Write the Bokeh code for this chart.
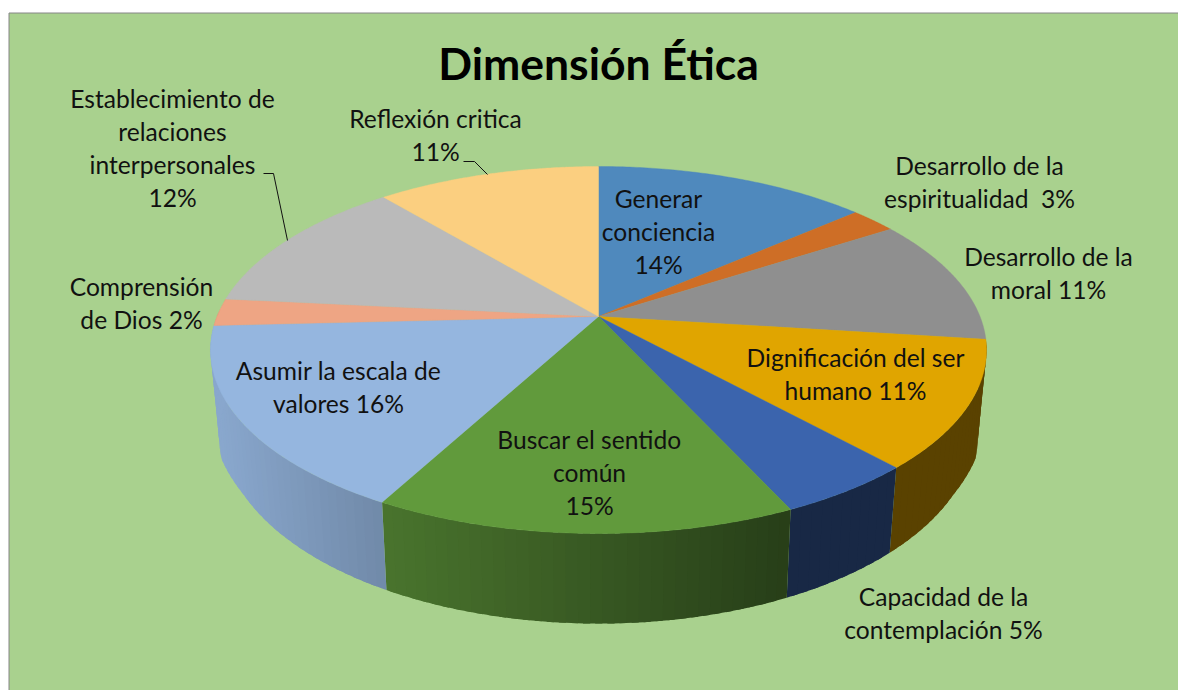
import numpy as np
from bokeh.plotting import figure
from bokeh.models import Range1d
from bokeh.core.properties import value
from bokeh.embed import file_html
from bokeh.resources import INLINE

# ---- data (shares; labels carry the printed rounding)
categories = ["Generar conciencia", "Desarrollo de la espiritualidad", "Desarrollo de la moral",
              "Dignificación del ser humano", "Capacidad de la contemplación", "Buscar el sentido común",
              "Asumir la escala de valores", "Comprensión de Dios",
              "Establecimiento de relaciones interpersonales", "Reflexión critica"]
shares = [13.6, 2.3, 11.1, 11.2, 4.9, 14.8, 16.3, 2.4, 12.3, 11.1]
colors = ["#4F89BD", "#CE6E26", "#8F8F8F", "#E0A500", "#3B64AD",
          "#619A3C", "#95B6DF", "#EEA584", "#BABABA", "#FBCF80"]
title = "Dimensión Ética"
label_lines = [
    ["Generar", "conciencia", "14%"],
    ["Desarrollo de la", "espiritualidad\u00a0 3%"],
    ["Desarrollo de la", "moral 11%"],
    ["Dignificación del ser", "humano 11%"],
    ["Capacidad de la", "contemplación 5%"],
    ["Buscar el sentido", "común", "15%"],
    ["Asumir la escala de", "valores 16%"],
    ["Comprensión", "de Dios 2%"],
    ["Establecimiento de", "relaciones", "interpersonales", "12%"],
    ["Reflexión critica", "11%"],
]
# first-line centre of each label, in page pixels
label_pos = [(658, 198), (979, 165), (1048, 256), (855, 357), (943, 596),
             (589, 439), (338, 370), (141, 286), (172, 98), (435, 118)]
line_gap = 33

# ---- projection of the tilted disc
CX, CY, RX, RY, K, DEPTH = 598.0, 316.0, 381.5, 177.4, 0.1826, 73.6
LOW_V = [0.0, 0.34, 0.5, 0.9, 1.0]
LOW_S = [0.965, 0.985, 0.975, 0.98, 0.98]


def top_ring(a):
    u, v = np.sin(a), -np.cos(a)
    w = 1 - K * v
    return CX + RX * u / w, CY + RY * v / w


def low_ring(a):
    x, y = top_ring(a)
    v = -np.cos(a)
    s = np.interp(v, LOW_V, LOW_S)
    w = 1 - K * v
    return CX + (x - CX) * s, y + DEPTH / w


def shade(hex_color, f):
    rgb = [int(hex_color[i:i + 2], 16) for i in (1, 3, 5)]
    return "#%02x%02x%02x" % tuple(int(round(c * f)) for c in rgb)


edges = np.radians(np.concatenate([[0], np.cumsum(shares)]) * 3.6)
WIDTH, HEIGHT = 1178, 690

p = figure(width=WIDTH, height=HEIGHT, output_backend="svg", toolbar_location=None,
           x_range=Range1d(0, WIDTH), y_range=Range1d(HEIGHT, 0),
           min_border=0, outline_line_color=None, border_fill_color="white",
           background_fill_color="white")
p.axis.visible = False
p.grid.visible = False

# chart area
p.quad(left=[8.5], right=[1200], top=[12.5], bottom=[700],
       fill_color="#A9D18E", line_color="#868686", line_width=1)

# side wall, as narrow overlapping strips shaded by horizontal position
SHADE_X = [215, 385, 790, 890, 990]
SHADE_F = [0.92, 0.75, 0.40, 0.40, 0.40]
vis0, vis1 = np.radians(97), np.radians(272)
STEP = np.radians(1.5)
for i, col in enumerate(colors):
    a0, a1 = max(edges[i], vis0), min(edges[i + 1], vis1)
    if a1 <= a0:
        continue
    n = max(2, int((a1 - a0) / STEP))
    ts = np.linspace(a0, a1, n + 1)
    for t0, t1 in zip(ts[:-1], ts[1:]):
        seg = np.linspace(t0, min(t1 + STEP * 0.6, a1), 4)
        xt, yt = top_ring(seg)
        xb, yb = low_ring(seg[::-1])
        f = float(np.interp(xt.mean(), SHADE_X, SHADE_F))
        c = shade(col, f)
        p.patch(list(xt) + list(xb), list(yt) + list(yb),
                fill_color=c, line_color=None)

# top surface
for i, col in enumerate(colors):
    ts = np.linspace(edges[i], edges[i + 1], 80)
    x, y = top_ring(ts)
    p.patch([CX] + list(x), [CY] + list(y), fill_color=col, line_color=col, line_width=0.4)

# leader lines
p.line([263, 273, 287], [173, 173, 240], line_color="#111111", line_width=1)
p.line([463, 474, 487], [161, 161, 174], line_color="#111111", line_width=1)

# texts
FONT = value("Lato")
xs, ys, txt = [], [], []
for (lx, ly), lines in zip(label_pos, label_lines):
    for j, s in enumerate(lines):
        xs.append(lx)
        ys.append(ly + j * line_gap)
        txt.append(s)
p.text(xs, ys, text=txt, text_font=FONT, text_font_size="24.6px", text_color="#111111",
       text_align="center", text_baseline="middle")
p.text([598], [62], text=[title], text_font=FONT, text_font_size="44.5px",
       text_font_style="bold", text_color="#000000", text_align="center", text_baseline="middle")

open("out.html", "w").write(file_html(p, INLINE))
